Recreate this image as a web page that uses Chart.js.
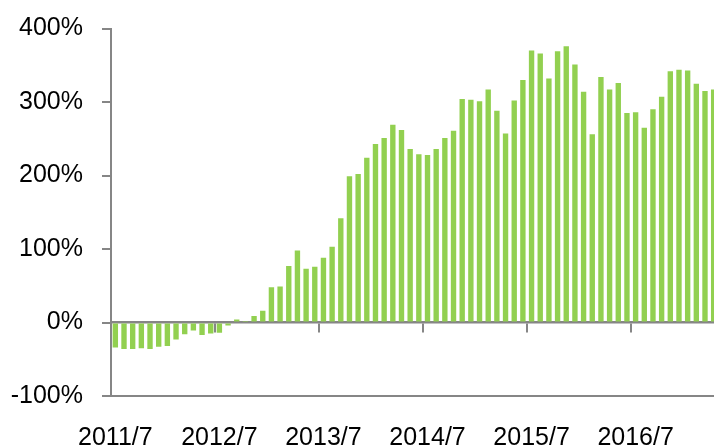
<!DOCTYPE html>
<html>
<head>
<meta charset="utf-8">
<script src="https://cdn.jsdelivr.net/npm/chart.js@4"></script>
<style>
  html, body { margin: 0; padding: 0; background: #fff; overflow: hidden; }
  .wrap { width: 718px; height: 446px; position: relative; }
</style>
</head>
<body>
<div class="wrap"><canvas id="growthChart"></canvas></div>
<script>
document.addEventListener("DOMContentLoaded", function() {

// Data (monthly, 2011/7 - 2017/4)
const startYear = 2011;
const startMonth = 7;
const growth = [
  -34, -36, -36, -35, -36, -33, -32, -23, -16, -11, -17, -15,
  -14, -4, 4, 2, 9, 16, 48, 49, 77, 98, 73, 76,
  88, 103, 142, 199, 202, 224, 243, 251, 269, 262, 236, 229,
  228, 236, 251, 261, 304, 303, 301, 317, 288, 257, 302, 330,
  370, 366, 332, 369, 376, 351, 314, 256, 334, 317, 326, 285,
  286, 265, 290, 307, 342, 344, 343, 325, 315, 317
];
const yTicks = [-100, 0, 100, 200, 300, 400];

const months = [];
for (let i = 0; i < growth.length; i++) {
  const m = startMonth - 1 + i;
  months.push((startYear + Math.floor(m / 12)) + "/" + (m % 12 + 1));
}

const axisGray = '#868686';
const font = { family: "'Liberation Sans', Arial, sans-serif", size: 25 };

const ctx = document.getElementById('growthChart');

new Chart(ctx, {
    type: 'bar',
    data: {
        labels: months,
        datasets: [{
            data: growth,
            backgroundColor: '#92D050',
            barPercentage: 0.62,
            categoryPercentage: 1
        }]
    },
    options: {
        responsive: true,
        maintainAspectRatio: false,
        animation: false,
        layout: { padding: { top: 28.5, left: 0, right: 0, bottom: 0 } },
        plugins: {
            legend: { display: false },
            tooltip: { enabled: false }
        },
        scales: {
            x: {
                type: 'category',
                position: 'bottom',
                offset: true,
                grid: { display: false },
                border: { display: true, color: axisGray, width: 2 },
                ticks: {
                    autoSkip: false,
                    maxRotation: 0,
                    padding: 19,
                    color: '#000',
                    font: font,
                    callback: function(val, index) {
                        return index % 12 === 0 ? months[index] : '';
                    }
                },
                afterFit: function(scale) {
                    scale.height = 50;
                    scale.paddingRight = 0;
                }
            },
            // zero line with yearly tick marks
            x2: {
                type: 'category',
                position: { y: 0 },
                offset: true,
                z: 1,
                grid: {
                    offset: true,
                    drawOnChartArea: false,
                    tickLength: 9,
                    lineWidth: 2,
                    color: function(c) {
                        return c.index % 12 === 0 ? axisGray : 'rgba(0,0,0,0)';
                    }
                },
                border: { display: true, color: axisGray, width: 2.5 },
                ticks: { display: false },
                afterFit: function(scale) { scale.height = 0; }
            },
            y: {
                min: -100,
                max: 400,
                afterBuildTicks: function(scale) {
                    scale.ticks = yTicks.map(v => ({ value: v }));
                },
                grid: {
                    drawOnChartArea: false,
                    tickLength: 9,
                    lineWidth: 2,
                    color: axisGray
                },
                border: { display: true, color: axisGray, width: 2 },
                ticks: {
                    padding: 19,
                    color: '#000',
                    font: font,
                    callback: function(v) { return v + '%'; }
                },
                afterFit: function(scale) {
                    scale.width = 111;
                    scale.paddingTop = 0;
                }
            }
        }
    }
});

});
</script>
</body>
</html>
